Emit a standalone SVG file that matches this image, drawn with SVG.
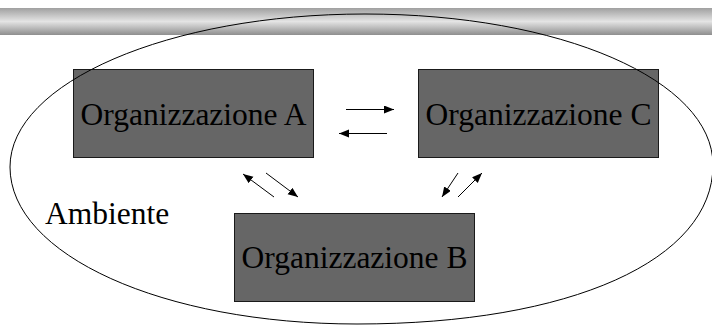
<svg xmlns="http://www.w3.org/2000/svg" width="712" height="325" viewBox="0 0 712 325">
<defs>
<linearGradient id="bar" x1="0" y1="0" x2="0" y2="1">
<stop offset="0" stop-color="#a0a0a0"/>
<stop offset="0.5" stop-color="#e4e4e4"/>
<stop offset="1" stop-color="#8e8e8e"/>
</linearGradient>
<marker id="ah" markerUnits="userSpaceOnUse" markerWidth="11" markerHeight="9" refX="10" refY="4" orient="auto">
<path d="M0,0 L10,4 L0,8 Z" fill="#000"/>
</marker>
</defs>
<style>
.box{fill:#666666;stroke:#1a1a1a;stroke-width:1}
.lbl{font-family:'Liberation Serif','DejaVu Serif',serif;font-size:31.5px;fill:#000}
.arr{stroke:#000;stroke-width:1;fill:none;marker-end:url(#ah)}
</style>
<rect x="0" y="8" width="712" height="27" fill="url(#bar)"/>
<g id="nodeA">
<rect class="box" x="73.5" y="69.5" width="240" height="88"/>
<text class="lbl" x="193.5" y="125" text-anchor="middle">Organizzazione A</text>
</g>
<g id="nodeC">
<rect class="box" x="418.5" y="69.5" width="240" height="88"/>
<text class="lbl" x="538.5" y="125" text-anchor="middle">Organizzazione C</text>
</g>
<g id="nodeB">
<rect class="box" x="234.5" y="213.5" width="240" height="88"/>
<text class="lbl" x="354.5" y="268" text-anchor="middle">Organizzazione B</text>
</g>
<g id="ambiente">
<path d="M365,14 C560,14 713,80 713,165 C713,260 571,324 357,324 C163,324 10,255 10,167 C10,82.5 169,14 365,14 Z" fill="none" stroke="#000" stroke-width="1"/>
<text class="lbl" x="45" y="224">Ambiente</text>
</g>
<g id="connectors">
<line class="arr" x1="346" y1="109.5" x2="394" y2="109.5"/>
<line class="arr" x1="387" y1="133.5" x2="339" y2="133.5"/>
<line class="arr" x1="274" y1="197" x2="243" y2="174"/>
<line class="arr" x1="266" y1="173" x2="298" y2="197"/>
<line class="arr" x1="458" y1="173" x2="442" y2="197"/>
<line class="arr" x1="458" y1="197" x2="482" y2="173"/>
</g>
</svg>
